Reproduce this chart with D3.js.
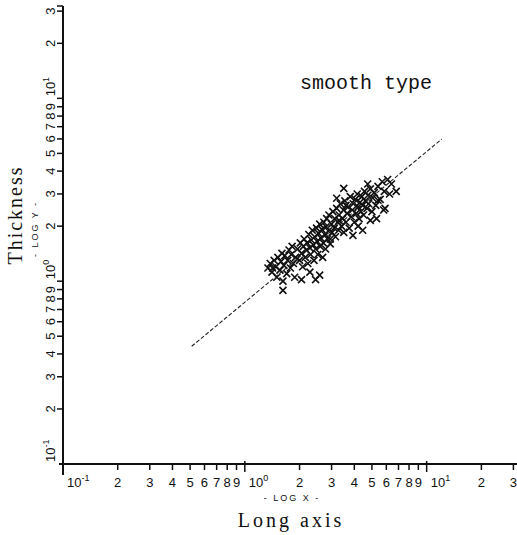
<!DOCTYPE html>
<html>
<head>
<meta charset="utf-8">
<script src="https://cdn.jsdelivr.net/npm/d3@7"></script>
<style>
	body { margin: 0; background: #fff; }
	svg { display: block; }
	.tickLabel { font-family: 'Liberation Sans', sans-serif; font-size: 13px; fill: #111; }
	.axisTitle { font-family: 'Liberation Serif', serif; fill: #111; }
	.plotTitle { font-family: 'Liberation Mono', monospace; fill: #111; }
	.logLabel { font-family: 'Liberation Sans', sans-serif; font-size: 9px; fill: #111; letter-spacing: 2px; }
</style>
</head>
<body>
<svg id="chart" width="517" height="535"></svg>
<script>
	// tick values of both log axes (decades get a 10^n label, the rest a single digit)
	const decades = [0.1, 1, 10];
	const decadeExponents = ['-1', '0', '1'];
	const xTicks = [0.1, 0.2, 0.3, 0.4, 0.5, 0.6, 0.7, 0.8, 0.9, 1, 2, 3, 4, 5, 6, 7, 8, 9, 10, 20, 30];
	const yTicks = [0.1, 0.2, 0.3, 0.4, 0.5, 0.6, 0.7, 0.8, 0.9, 1, 2, 3, 4, 5, 6, 7, 8, 9, 10, 20, 30];

	// measured specimens, long axis
	const longAxis = [
		1.34, 1.38, 1.41, 1.45, 1.48, 1.50, 1.52, 1.56, 1.58, 1.60, 1.62, 1.64, 1.66, 1.70, 1.72, 1.75,
		1.78, 1.80, 1.82, 1.85, 1.88, 1.90, 1.62, 1.42, 2.28, 2.58, 2.05, 2.45,
		1.95, 2.00, 2.02, 2.05, 2.08, 2.10, 2.12, 2.15, 2.18, 2.20, 2.22, 2.25, 2.28, 2.30, 2.32, 2.35,
		2.38, 2.40, 2.42, 2.45, 2.48, 2.50, 2.52, 2.55, 2.58, 2.60, 2.62, 2.65, 2.68, 2.70, 2.72, 2.75,
		2.78, 2.80, 2.82, 2.85, 2.88, 2.90,
		2.95, 3.00, 3.02, 3.05, 3.10, 3.12, 3.15, 3.20, 3.25, 3.28, 3.30, 3.35, 3.40, 3.45, 3.48, 3.50,
		3.55, 3.60, 3.65, 3.70, 3.75, 3.80, 3.85, 3.90, 3.95, 4.00, 4.05, 4.10, 4.15, 4.20, 4.25, 4.30,
		4.35, 4.40, 4.45, 4.50, 4.55, 4.60, 4.70, 4.75, 4.80,
		4.90, 5.00, 5.05, 5.15, 5.25, 5.30, 5.40, 5.55, 5.70, 5.80, 5.85, 6.10, 6.25, 6.40, 6.80, 4.74,
		3.50, 3.20, 5.90, 5.40, 4.90, 4.45, 3.93, 4.20, 3.60, 2.95, 3.30
	];
	// measured specimens, thickness (same order)
	const thickness = [
		1.18, 1.25, 1.12, 1.30, 1.20, 1.05, 1.35, 1.15, 1.28, 1.42, 1.00, 1.22, 1.38, 1.10, 1.30, 1.48,
		1.18, 1.40, 1.55, 1.25, 1.05, 1.35, 0.89, 1.18, 1.12, 1.08, 1.02, 1.02,
		1.50, 1.30, 1.62, 1.42, 1.20, 1.55, 1.70, 1.35, 1.48, 1.62, 1.25, 1.80, 1.52, 1.40, 1.68, 1.90,
		1.58, 1.30, 1.75, 1.50, 1.95, 1.65, 1.40, 1.82, 2.05, 1.55, 1.72, 1.92, 1.35, 1.62, 2.10, 1.80,
		1.50, 1.98, 2.20, 1.70, 1.88, 2.30,
		1.60, 2.05, 1.85, 2.40, 1.95, 2.20, 1.75, 2.50, 2.10, 1.90, 2.30, 2.65, 2.00, 2.20, 2.45, 1.85,
		2.75, 2.10, 2.35, 2.55, 1.95, 2.90, 2.25, 2.45, 2.65, 2.10, 2.80, 2.35, 3.00, 2.55, 2.20, 2.70,
		2.40, 2.90, 2.60, 2.30, 3.10, 2.75, 2.50, 2.95, 2.65,
		3.20, 2.40, 2.85, 3.05, 2.60, 2.20, 3.30, 2.80, 3.50, 2.45, 3.10, 3.60, 3.00, 3.40, 3.10, 3.40,
		3.22, 2.84, 2.50, 2.77, 2.15, 1.90, 1.78, 2.00, 2.60, 1.70, 2.15
	];

	// fitted power law: thickness = a * long^b
	const fitA = 0.767;
	const fitB = 0.824;
	const fitRange = [0.51, 12.1];

	const svg = d3.select('#chart');

	let x = d3.scaleLog().domain([0.1, 31]).range([63, 516]);
	let y = d3.scaleLog().domain([0.1, 32]).range([464, 6]);

	let isDecade = (v) => decades.indexOf(v) >= 0;
	let exponentOf = (v) => decadeExponents[decades.indexOf(v)];
	let digit = (v) => String(Math.round(v / Math.pow(10, Math.floor(Math.log10(v) + 1e-9))));

	// axis lines
	svg.append('line')
		.attr('x1', x(0.1) - 4).attr('x2', 517)
		.attr('y1', y(0.1)).attr('y2', y(0.1))
		.attr('stroke', '#111').attr('stroke-width', 2);
	svg.append('line')
		.attr('x1', x(0.1)).attr('x2', x(0.1))
		.attr('y1', y(32)).attr('y2', y(0.1) + 11)
		.attr('stroke', '#111').attr('stroke-width', 2);

	// x ticks go down from the axis
	svg.selectAll('.xTick')
		.data(xTicks.filter((d) => d > 0.1))
		.enter().append('line')
		.attr('class', 'xTick')
		.attr('x1', (d) => x(d)).attr('x2', (d) => x(d))
		.attr('y1', (d) => isDecade(d) ? y(0.1) - 3 : y(0.1))
		.attr('y2', (d) => isDecade(d) ? y(0.1) + 8 : y(0.1) + 6)
		.attr('stroke', '#111').attr('stroke-width', 1.5);

	// y ticks go left from the axis
	svg.selectAll('.yTick')
		.data(yTicks.filter((d) => d > 0.1).concat([32]))
		.enter().append('line')
		.attr('class', 'yTick')
		.attr('x1', x(0.1) - 6).attr('x2', x(0.1))
		.attr('y1', (d) => y(d)).attr('y2', (d) => y(d))
		.attr('stroke', '#111').attr('stroke-width', 1.5);

	// x tick labels
	let xl = svg.selectAll('.xLabel')
		.data(xTicks)
		.enter().append('text')
		.attr('class', 'tickLabel xLabel')
		.attr('x', (d) => isDecade(d) ? x(d) + 4 : x(d))
		.attr('y', 487)
		.attr('text-anchor', (d) => isDecade(d) ? 'start' : 'middle');
	xl.filter((d) => !isDecade(d)).text((d) => digit(d));
	xl.filter((d) => isDecade(d)).append('tspan').text('10');
	xl.filter((d) => isDecade(d)).append('tspan')
		.attr('dy', -6).attr('font-size', 9)
		.text((d) => exponentOf(d));

	// y tick labels, rotated to read upward
	let yl = svg.selectAll('.yLabel')
		.data(yTicks)
		.enter().append('text')
		.attr('class', 'tickLabel yLabel')
		.attr('transform', (d) => 'translate(55,' + (isDecade(d) ? y(d) - 2 : y(d)) + ') rotate(-90)')
		.attr('text-anchor', (d) => isDecade(d) ? 'start' : 'middle');
	yl.filter((d) => !isDecade(d)).text((d) => digit(d));
	yl.filter((d) => isDecade(d)).append('tspan').text('10');
	yl.filter((d) => isDecade(d)).append('tspan')
		.attr('dy', -6).attr('font-size', 9)
		.text((d) => exponentOf(d));

	// fitted line
	let fitPoints = d3.range(0, 41).map((i) => {
		let lx = Math.log10(fitRange[0]) + i / 40 * (Math.log10(fitRange[1]) - Math.log10(fitRange[0]));
		let v = Math.pow(10, lx);
		return [v, fitA * Math.pow(v, fitB)];
	});
	svg.append('path')
		.datum(fitPoints)
		.attr('d', d3.line().x((d) => x(d[0])).y((d) => y(d[1])))
		.attr('fill', 'none')
		.attr('stroke', '#222')
		.attr('stroke-width', 1.1)
		.attr('stroke-dasharray', '4,2');

	// specimens as x marks
	svg.selectAll('.hit')
		.data(d3.range(longAxis.length))
		.enter().append('path')
		.attr('class', 'hit')
		.attr('transform', (i) => 'translate(' + x(longAxis[i]) + ',' + y(thickness[i]) + ')')
		.attr('d', 'M-3.5,-3.5L3.5,3.5M-3.5,3.5L3.5,-3.5')
		.attr('stroke', '#111')
		.attr('stroke-width', 1.6)
		.attr('fill', 'none');

	// titles
	svg.append('text')
		.attr('class', 'plotTitle')
		.attr('x', 300).attr('y', 89)
		.attr('font-size', 20)
		.text('smooth type');
	svg.append('text')
		.attr('class', 'axisTitle')
		.attr('x', 291).attr('y', 527)
		.attr('text-anchor', 'middle')
		.attr('font-size', 20)
		.attr('letter-spacing', 3)
		.text('Long axis');
	svg.append('text')
		.attr('class', 'axisTitle')
		.attr('transform', 'translate(22,215) rotate(-90)')
		.attr('text-anchor', 'middle')
		.attr('font-size', 20)
		.attr('letter-spacing', 2)
		.text('Thickness');
	svg.append('text')
		.attr('class', 'logLabel')
		.attr('x', 292).attr('y', 501)
		.attr('text-anchor', 'middle')
		.text('- LOG X -');
	svg.append('text')
		.attr('class', 'logLabel')
		.attr('transform', 'translate(38,229) rotate(-90)')
		.attr('text-anchor', 'middle')
		.text('- LOG Y -');
</script>
</body>
</html>
